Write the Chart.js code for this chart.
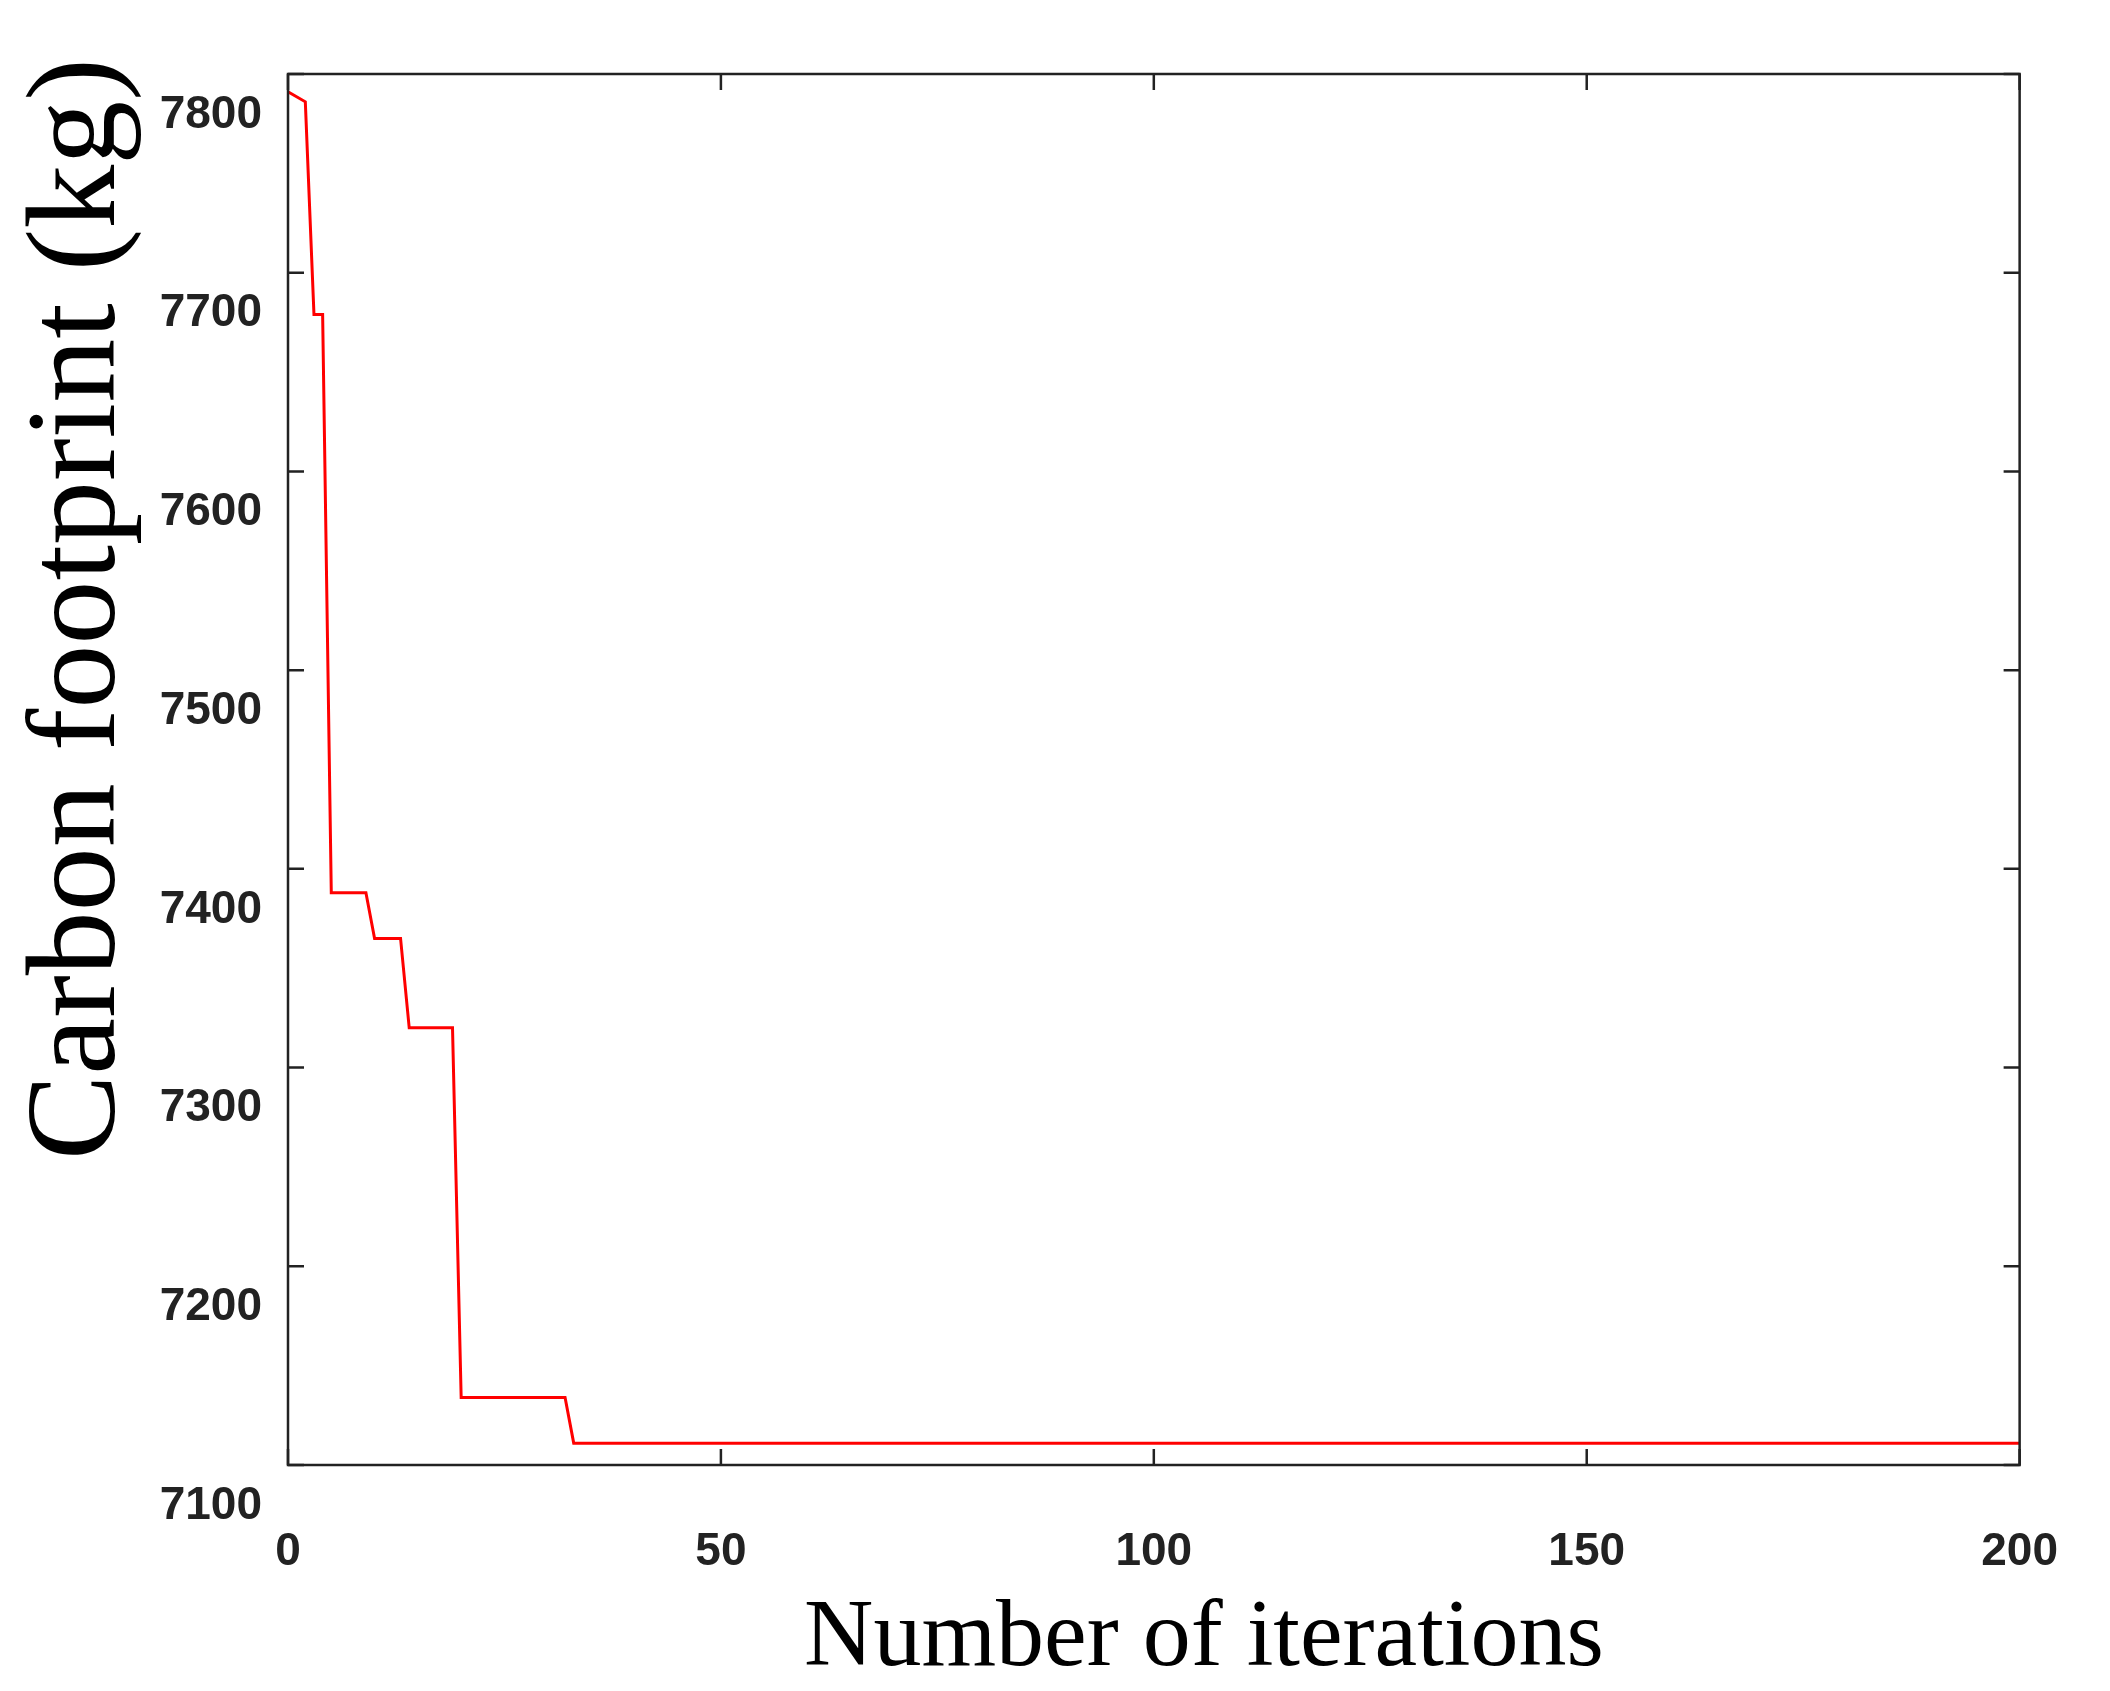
<!DOCTYPE html>
<html>
<head>
<meta charset="utf-8">
<script src="https://cdn.jsdelivr.net/npm/chart.js@4"></script>
<style>
  html, body { margin: 0; padding: 0; background: #fff; }
  #wrap { width: 2110px; height: 1691px; }
</style>
</head>
<body>
<div id="wrap"><canvas id="chart" width="2110" height="1691"></canvas></div>
<script>
// values
const iterations = [0, 2, 3, 4, 5, 9, 10, 13, 14, 19, 20, 32, 33, 200];
const footprint = [7791, 7786, 7679, 7679, 7388, 7388, 7365, 7365, 7320, 7320, 7134, 7134, 7111, 7111];
const xTicks = [0, 50, 100, 150, 200];
const yTicks = [7100, 7200, 7300, 7400, 7500, 7600, 7700, 7800];

// inward tick marks on all four sides, plus the axis titles
const frameTicks = {
    id: 'frameTicks',
    afterDraw(chart) {
        const ctx = chart.ctx;
        const a = chart.chartArea;
        const x = chart.scales.x, y = chart.scales.y;
        const len = 16;
        ctx.save();
        ctx.strokeStyle = '#222';
        ctx.lineWidth = 2.5;
        ctx.beginPath();
        xTicks.forEach(v => {
            const px = x.getPixelForValue(v);
            ctx.moveTo(px, a.bottom); ctx.lineTo(px, a.bottom - len);
            ctx.moveTo(px, a.top); ctx.lineTo(px, a.top + len);
        });
        yTicks.forEach(v => {
            const py = y.getPixelForValue(v);
            ctx.moveTo(a.left, py); ctx.lineTo(a.left + len, py);
            ctx.moveTo(a.right, py); ctx.lineTo(a.right - len, py);
        });
        ctx.stroke();
        ctx.strokeRect(a.left, a.top, a.right - a.left, a.bottom - a.top);

        ctx.fillStyle = '#000';
        ctx.textAlign = 'center';
        ctx.textBaseline = 'middle';
        ctx.font = '96px "Liberation Serif", "DejaVu Serif", serif';
        ctx.fillText('Number of iterations', 1204, 1640);
        ctx.font = '128px "Liberation Serif", "DejaVu Serif", serif';
        ctx.translate(80, 609);
        ctx.rotate(-Math.PI / 2);
        ctx.fillText('Carbon footprint (kg)', 0, 0);
        ctx.restore();
    }
};

new Chart(document.getElementById('chart'), {
    type: 'line',
    data: {
        datasets: [{
            data: iterations.map((v, i) => ({ x: v, y: footprint[i] })),
            borderColor: '#ff0000',
            borderWidth: 3,
            pointRadius: 0,
            tension: 0
        }]
    },
    options: {
        responsive: false,
        animation: false,
        layout: { padding: { left: 0, top: 74, right: 37, bottom: 0 } },
        plugins: { legend: { display: false }, tooltip: { enabled: false } },
        scales: {
            x: {
                type: 'linear',
                min: 0,
                max: 200,
                afterFit(s) { s.height = 226; },
                afterBuildTicks(s) { s.ticks = xTicks.map(v => ({ value: v })); },
                grid: { display: false },
                border: { display: false },
                ticks: {
                    padding: 52,
                    color: '#222',
                    maxRotation: 0,
                    callback: v => String(v),
                    font: { family: '"Liberation Sans", Arial, sans-serif', size: 46, weight: 'bold' }
                }
            },
            y: {
                min: 7100,
                max: 7800,
                afterFit(s) { s.width = 288; },
                afterBuildTicks(s) { s.ticks = yTicks.map(v => ({ value: v })); },
                grid: { display: false },
                border: { display: false },
                ticks: {
                    padding: 18,
                    labelOffset: 41,
                    color: '#222',
                    callback: v => String(v),
                    font: { family: '"Liberation Sans", Arial, sans-serif', size: 46, weight: 'bold' }
                }
            }
        }
    },
    plugins: [frameTicks]
});
</script>
</body>
</html>
